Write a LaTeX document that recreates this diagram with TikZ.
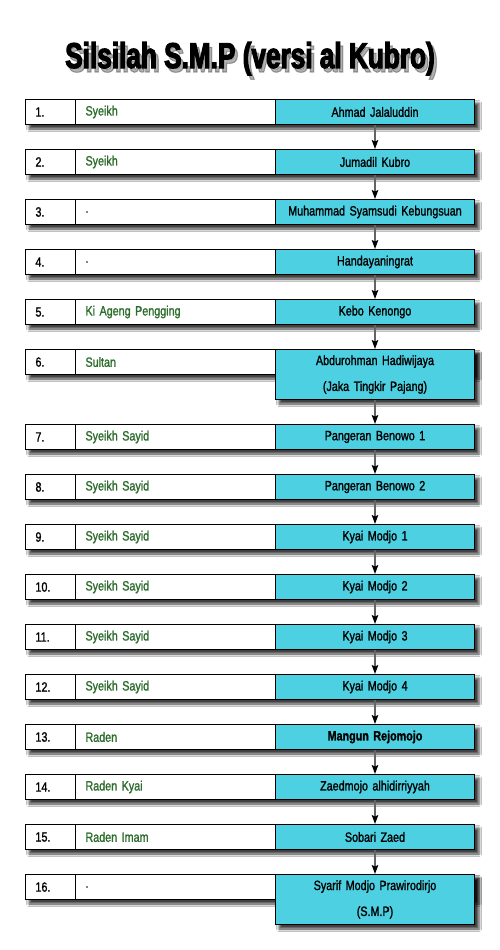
\documentclass[tikz,border=0pt]{standalone}
\usepackage{fontspec}
\setmainfont{Liberation Sans}
\newfontfamily\cellfamily[FakeStretch=0.8,FakeBold=1.3]{Liberation Sans}
\newfontfamily\titlefamily[FakeStretch=0.73,FakeBold=3]{Liberation Sans}
\usetikzlibrary{arrows.meta,shadows.blur,backgrounds}
\definecolor{cellblue}{HTML}{4DD0E1}
\definecolor{labgreen}{RGB}{44,108,44}
\definecolor{arrgray}{RGB}{100,100,100}
\tikzset{
  cell/.style={draw=black, line width=1bp, minimum height=25bp, inner sep=0pt,
    anchor=north west, font=\cellfamily\fontsize{13.5}{26}\selectfont},
  numcell/.style={cell, fill=white, minimum width=50bp, text width=30bp, align=left},
  labcell/.style={cell, fill=white, minimum width=200bp, text width=180bp, align=left, text=labgreen},
  namecell/.style={cell, fill=cellblue, minimum width=199bp, text width=195bp, align=center},
  tallcell/.style={namecell, minimum height=50bp},
  rowshadow/.style={fill=white, blur shadow={shadow xshift=4bp, shadow yshift=-4bp, shadow blur radius=2.5bp, shadow opacity=75}},
  arrowline/.style={draw=arrgray, line width=1.5bp, -{Stealth[width=6.5bp,length=9bp,inset=1.5bp,black]}},
  titletext/.style={font=\titlefamily\bfseries\fontsize{36}{40}\selectfont, anchor=base, inner sep=0pt}
}
\begin{document}
\begin{tikzpicture}[x=1bp,y=-1bp]
\useasboundingbox (0,0) rectangle (500,950);
% title with soft shadow
\node[titletext, text=black, opacity=0.3] (tshadow) at (253,72) {Silsilah S.M.P (versi al Kubro)};
\node[titletext] (title) at (250,68) {Silsilah S.M.P (versi al Kubro)};
% rows
\foreach \i/\t/\lab/\nm in {
  1/99/Syeikh/Ahmad Jalaluddin,
  2/149/Syeikh/Jumadil Kubro,
  3/199/./Muhammad Syamsudi Kebungsuan,
  4/249/./Handayaningrat,
  5/299/Ki Ageng Pengging/Kebo Kenongo,
  7/424/Syeikh Sayid/Pangeran Benowo 1,
  8/474/Syeikh Sayid/Pangeran Benowo 2,
  9/524/Syeikh Sayid/Kyai Modjo 1,
  10/574/Syeikh Sayid/Kyai Modjo 2,
  11/624/Syeikh Sayid/Kyai Modjo 3,
  12/674/Syeikh Sayid/Kyai Modjo 4,
  14/774/Raden Kyai/Zaedmojo alhidirriyyah,
  15/824/Raden Imam/Sobari Zaed}{
  \node[numcell] (num\i) at (25,\t) {\i.};
  \node[labcell] (lab\i) at (75,\t) {\lab};
  \node[namecell] (name\i) at (275,\t) {\nm};
}
\node[numcell] (num6) at (25,349) {6.};
\node[labcell] (lab6) at (75,349) {Sultan};
\node[tallcell] (name6) at (275,349) {Abdurohman Hadiwijaya\\(Jaka Tingkir Pajang)};
\node[numcell] (num13) at (25,724) {13.};
\node[labcell] (lab13) at (75,724) {Raden};
\node[namecell] (name13) at (275,724) {\bfseries Mangun Rejomojo};
\node[numcell] (num16) at (25,874) {16.};
\node[labcell] (lab16) at (75,874) {.};
\node[tallcell] (name16) at (275,874) {Syarif Modjo Prawirodirjo\\(S.M.P)};
% shadows behind rows
\begin{scope}[on background layer]
  \fill[white] (0,0) rectangle (500,950);
  \foreach \i in {1,...,16}
    \path[rowshadow] (num\i.north west) rectangle (name\i.south east |- num\i.south);
  \path[rowshadow] (name6.north west) rectangle (name6.south east);
  \path[rowshadow] (name16.north west) rectangle (name16.south east);
\end{scope}
% connectors
\foreach \a/\b in {1/2,2/3,3/4,4/5,5/6,6/7,7/8,8/9,9/10,10/11,11/12,12/13,13/14,14/15,15/16}
  \draw[arrowline] (name\a.south) -- (name\b.north);
\end{tikzpicture}
\end{document}
